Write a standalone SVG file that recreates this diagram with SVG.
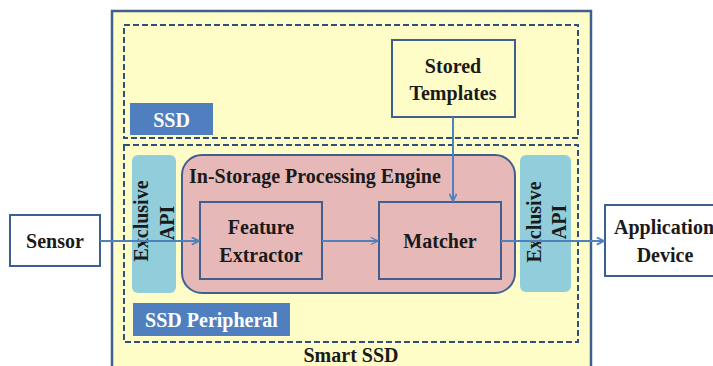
<svg xmlns="http://www.w3.org/2000/svg" width="713" height="366" viewBox="0 0 713 366">
<style>
text{font-family:'Liberation Serif','Times New Roman',serif;font-weight:bold;font-size:20px;fill:#1a1a1a}
.lbl{fill:#ffffff}
.box{stroke:#3f5f8f;stroke-width:2}
.dash{fill:none;stroke:#2f4f7f;stroke-width:2;stroke-dasharray:6,3}
.conn{stroke:#4f81bd;stroke-width:2;fill:none}
</style>
<defs>
<marker id="ah" viewBox="0 0 10 10" refX="9" refY="5" markerWidth="9" markerHeight="9" markerUnits="userSpaceOnUse" orient="auto">
<path d="M1,1 L9,5 L1,9" fill="none" stroke="#4f81bd" stroke-width="2"/>
</marker>
<marker id="ah2" viewBox="0 0 10 10" refX="9" refY="5" markerWidth="9" markerHeight="9" markerUnits="userSpaceOnUse" orient="auto">
<path d="M1,1 L9,5 L1,9" fill="none" stroke="#4f81bd" stroke-width="1.3"/>
</marker>
</defs>
<rect width="713" height="366" fill="#ffffff"/>
<g id="smart-ssd">
<rect x="112" y="11" width="479" height="370" fill="#fefdc8" stroke="#3f5f8f" stroke-width="2.5"/>
<text x="351" y="362" text-anchor="middle">Smart SSD</text>
</g>
<g id="ssd">
<rect class="dash" x="124" y="25" width="454" height="113"/>
<rect x="130" y="103" width="83" height="32" fill="#4f7fbf"/>
<text class="lbl" x="171.500" y="127" text-anchor="middle">SSD</text>
</g>
<g id="ssd-peripheral">
<rect class="dash" x="124" y="145" width="454" height="197"/>
<rect x="133" y="303" width="157" height="33" fill="#4f7fbf"/>
<text class="lbl" x="211.500" y="327" text-anchor="middle">SSD Peripheral</text>
</g>
<g id="api-left">
<rect x="132" y="155" width="44" height="138" rx="6" fill="#92cddc"/>
<text transform="translate(148,221) rotate(-90)" text-anchor="middle">Exclusive</text>
<text transform="translate(174,223) rotate(-90)" text-anchor="middle">API</text>
</g>
<g id="api-right">
<rect x="520" y="155" width="51" height="137" rx="6" fill="#92cddc"/>
<text transform="translate(541,222) rotate(-90)" text-anchor="middle">Exclusive</text>
<text transform="translate(566,222) rotate(-90)" text-anchor="middle">API</text>
</g>
<g id="engine">
<rect class="box" x="182" y="155" width="333" height="138" rx="20" fill="#e6b8b7"/>
<text x="189" y="183">In-Storage Processing Engine</text>
</g>
<g id="feature-extractor">
<rect class="box" x="200" y="202" width="122" height="77" fill="#e6b8b7"/>
<text x="261" y="234" text-anchor="middle">Feature</text>
<text x="261" y="262" text-anchor="middle">Extractor</text>
</g>
<g id="matcher">
<rect class="box" x="379" y="202" width="122" height="77" fill="#e6b8b7"/>
<text x="440" y="248" text-anchor="middle">Matcher</text>
</g>
<g id="stored-templates">
<rect class="box" x="392" y="40" width="123" height="77" fill="#fefdc8"/>
<text x="453" y="73" text-anchor="middle">Stored</text>
<text x="453" y="100" text-anchor="middle">Templates</text>
</g>
<g id="sensor">
<rect class="box" x="10" y="215" width="90" height="51" fill="#ffffff"/>
<text x="55" y="248" text-anchor="middle">Sensor</text>
</g>
<g id="application-device">
<rect class="box" x="605" y="205" width="120" height="71" fill="#ffffff"/>
<text x="614" y="234">Application</text>
<text x="665" y="262" text-anchor="middle">Device</text>
</g>
<g id="connectors">
<line class="conn" x1="100" y1="241" x2="199" y2="241" marker-end="url(#ah)"/>
<line class="conn" x1="322" y1="241" x2="378" y2="241" stroke-width="1.3" marker-end="url(#ah2)"/>
<line class="conn" x1="453" y1="117" x2="453" y2="201" marker-end="url(#ah)"/>
<line class="conn" x1="501" y1="241" x2="604" y2="241" marker-end="url(#ah)"/>
</g>
</svg>
